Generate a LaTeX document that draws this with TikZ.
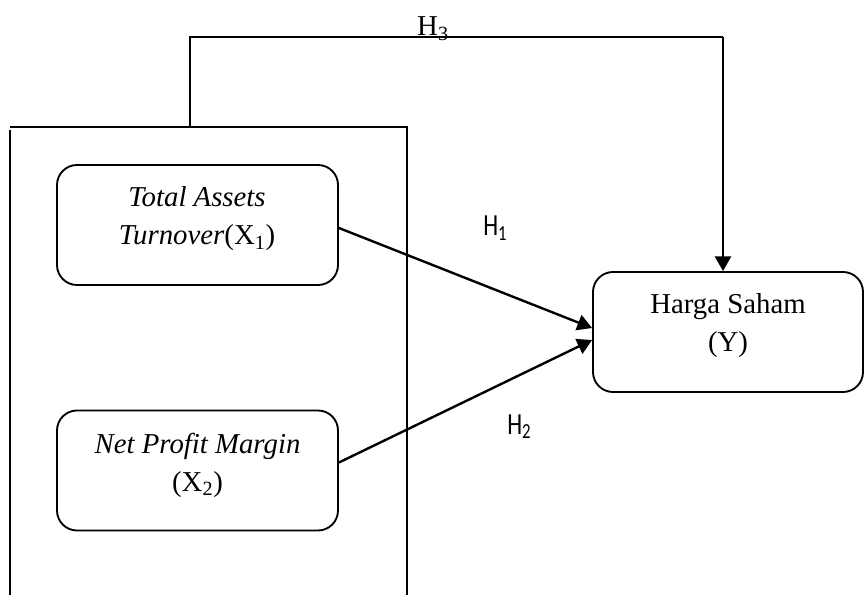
\documentclass[tikz,border=0pt]{standalone}
\usepackage{fontspec}
\setmainfont{Liberation Serif}
\newfontfamily\calib[FakeStretch=0.78]{Carlito}
\usetikzlibrary{arrows.meta,calc}
\begin{document}
\begin{tikzpicture}[x=0.75pt,y=-0.75pt,
  box/.style={draw,line width=1.4pt,rounded corners=15pt,inner sep=0pt,minimum height=90pt},
  txt/.style={font=\fontsize{21.6}{28.5}\selectfont,align=center,inner sep=0pt},
  hlab/.style={font=\calib\fontsize{23}{26}\selectfont,inner sep=0pt,anchor=base west},
  arr/.style={line width=1.8pt,-{Triangle[length=11pt,width=12pt]}},
  frame/.style={line width=1.1pt}]
\useasboundingbox (0,0) rectangle (864,595);
% outer frame (open at bottom)
\coordinate (ftl) at (10,127);
\coordinate (ftr) at (407,127);
\coordinate (fbl) at (10,595);
\coordinate (fbr) at (407,595);
\draw[frame] (fbl) -- ($(ftl)+(0,3)$);
\draw[frame] (ftl) -- (ftr) -- (fbr);
% boxes
\node[box,minimum width=210.75pt] (x1) at (197.5,225) {};
\node[box,minimum width=210.75pt] (x2) at (197.5,470.5) {};
\node[box,minimum width=202.5pt] (y) at (728,332) {};
% texts
\node[txt] (x1t) at (197,219) {\textit{Total Assets}\\\textit{Turnover}(X\textsubscript{1})};
\node[txt] (x2t) at (197.5,465) {\textit{Net Profit Margin}\\(X\textsubscript{2})};
\node[txt] (yt) at (728,326) {Harga Saham\\(Y)};
% H3 path
\coordinate (hb) at (190,127);
\coordinate (ht) at (723,37);
\draw[line width=1.4pt] (hb) |- (ht);
\draw[arr] (ht) -- (ht |- y.north);
\node[font=\fontsize{21.6}{24}\selectfont,inner sep=0pt,anchor=base] (h3) at (433,36) {H\textsubscript{3}};
% H1, H2 arrows
\draw[arr] ($(x1.east)+(0,3)$) -- ($(y.west)+(0,-4)$);
\draw[arr] ($(x2.east)+(0,-8)$) -- ($(y.west)+(0,8)$);
\node[hlab] (h1) at (483,236) {H\textsubscript{1}};
\node[hlab] (h2) at (507,434) {H\textsubscript{2}};
\end{tikzpicture}
\end{document}
